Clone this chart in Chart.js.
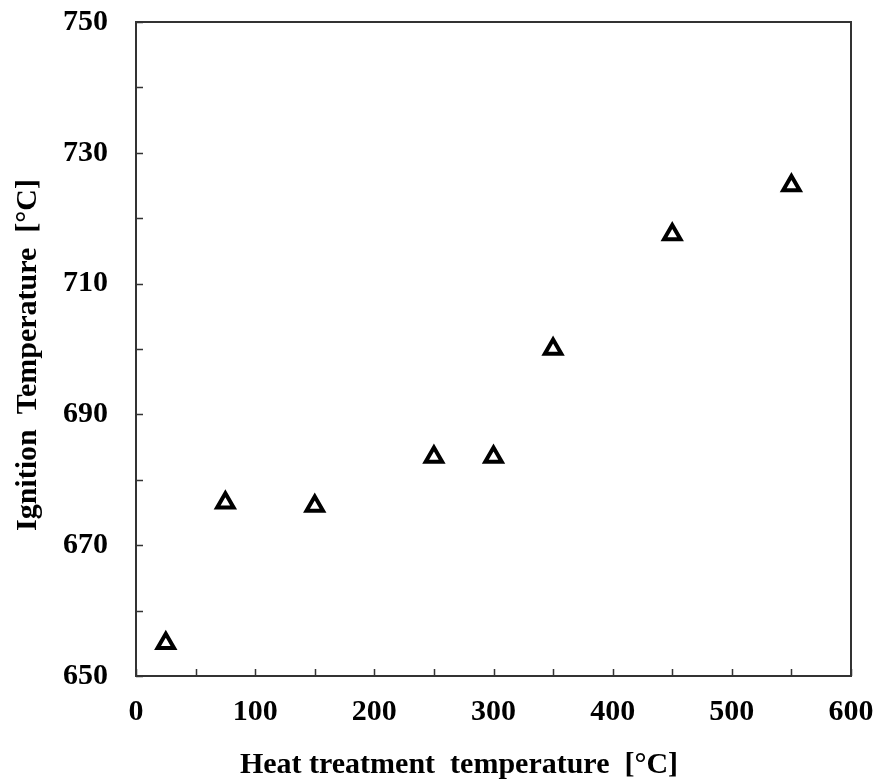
<!DOCTYPE html>
<html>
<head>
<meta charset="utf-8">
<script src="https://cdn.jsdelivr.net/npm/chart.js@4"></script>
<style>
body { margin: 0; background: #fff; }
</style>
</head>
<body>
<canvas id="chart1" width="881" height="783"></canvas>
<script>
var heatTemps = [25, 75, 150, 250, 300, 350, 450, 550];
var ignitionTemps = [655, 676.5, 676, 683.5, 683.5, 700, 717.5, 725];
var xTickLabels = [0, 100, 200, 300, 400, 500, 600];
var yTickLabels = [650, 670, 690, 710, 730, 750];
var xTitle = 'Heat treatment  temperature  [\u00B0C]';
var yTitle = 'Ignition  Temperature  [\u00B0C]';

var fontFamily = '"Liberation Serif", "Times New Roman", serif';

// frame, inward ticks and axis titles
var framePlugin = {
    id: 'frame',
    afterDraw: function(chart) {
        var ctx = chart.ctx;
        var a = chart.chartArea;
        var xs = chart.scales.x;
        var ys = chart.scales.y;
        ctx.save();
        ctx.strokeStyle = '#333';
        ctx.lineWidth = 2;
        ctx.strokeRect(a.left, a.top, a.right - a.left, a.bottom - a.top);
        ctx.lineWidth = 1.5;
        ctx.beginPath();
        xs.ticks.forEach(function(t) {
            var px = Math.round(xs.getPixelForValue(t.value)) + 0.5;
            ctx.moveTo(px, a.bottom);
            ctx.lineTo(px, a.bottom - 7);
        });
        ys.ticks.forEach(function(t) {
            var py = Math.round(ys.getPixelForValue(t.value)) + 0.5;
            ctx.moveTo(a.left, py);
            ctx.lineTo(a.left + 7, py);
        });
        ctx.stroke();

        ctx.fillStyle = '#000';
        ctx.font = 'bold 30px ' + fontFamily;
        ctx.textAlign = 'center';
        ctx.textBaseline = 'middle';
        ctx.fillText(xTitle, 459, 765);
        ctx.translate(28, 355);
        ctx.rotate(-Math.PI / 2);
        ctx.fillText(yTitle, 0, 0);
        ctx.restore();
    }
};

var myChart = document.getElementById('chart1').getContext('2d');
var ignitionChart = new Chart(myChart, {
    type: 'scatter',
    data: {
        datasets: [{
            label: 'Ignition temperature',
            data: heatTemps.map(function(x, i) { return { x: x, y: ignitionTemps[i] }; }),
            pointStyle: 'triangle',
            pointRadius: 9.5,
            pointBorderWidth: 4,
            pointBorderColor: '#000',
            pointBackgroundColor: '#fff'
        }]
    },
    options: {
        responsive: false,
        animation: false,
        layout: { padding: { top: 22, right: 30, left: 0, bottom: 0 } },
        plugins: {
            legend: { display: false },
            tooltip: { enabled: false }
        },
        scales: {
            x: {
                type: 'linear',
                min: 0,
                max: 600,
                afterFit: function(scale) {
                    scale.height = 107;
                    scale.paddingLeft = 0;
                    scale.paddingRight = 0;
                },
                ticks: {
                    stepSize: 50,
                    autoSkip: false,
                    maxRotation: 0,
                    padding: 18,
                    color: '#000',
                    font: { family: fontFamily, size: 30, weight: 'bold' },
                    callback: function(v) { return xTickLabels.indexOf(v) >= 0 ? v : ''; }
                },
                grid: { display: false, drawTicks: false },
                border: { display: false }
            },
            y: {
                type: 'linear',
                min: 650,
                max: 750,
                afterFit: function(scale) {
                    scale.width = 136;
                    scale.paddingTop = 0;
                    scale.paddingBottom = 0;
                },
                ticks: {
                    stepSize: 10,
                    autoSkip: false,
                    padding: 28,
                    color: '#000',
                    font: { family: fontFamily, size: 30, weight: 'bold' },
                    callback: function(v) { return yTickLabels.indexOf(v) >= 0 ? v : ''; }
                },
                grid: { display: false, drawTicks: false },
                border: { display: false }
            }
        }
    },
    plugins: [framePlugin]
});
</script>
</body>
</html>
